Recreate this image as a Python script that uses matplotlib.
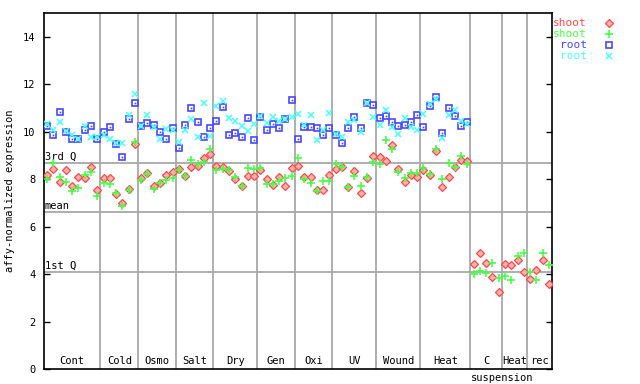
import matplotlib
matplotlib.use('Agg')
import matplotlib.pyplot as plt
import numpy as np

# sample groups along the x axis
groups = ['Cont', 'Cold', 'Osmo', 'Salt', 'Dry', 'Gen', 'Oxi', 'UV', 'Wound',
          'Heat', 'C', 'Heat', 'rec']
group_sizes = [9, 6, 6, 6, 7, 6, 6, 7, 7, 8, 5, 4, 4]

# reference lines
ref_names = ['3rd Q', 'mean', '1st Q']
ref_values = [8.69, 6.62, 4.09]

# shoot replicate 1 (red) and 2 (green)
shoot_red = [8.19, 8.41, 7.87, 8.37, 7.70, 8.08, 8.04, 8.50, 7.54,
             8.04, 8.04, 7.37, 7.01, 7.58, 9.48,
             8.04, 8.25, 7.70, 7.83, 8.17, 8.30,
             8.42, 8.13, 8.50, 8.55, 8.88, 9.05,
             8.55, 8.50, 8.33, 8.00, 7.70, 8.13, 8.13,
             8.38, 8.00, 7.74, 8.08, 7.70, 8.46,
             8.55, 8.08, 8.08, 7.54, 7.54, 8.17,
             8.42, 8.50, 7.66, 8.33, 7.41, 8.04, 8.97,
             8.93, 8.75, 9.43, 8.42, 7.87, 8.17, 8.08,
             8.38, 8.17, 9.18, 7.66, 8.08, 8.50, 8.80, 8.75,
             4.42, 4.89, 4.46, 3.87, 3.23,
             4.42, 4.37, 4.58, 4.08,
             3.78, 4.16, 4.58, 3.57]
shoot_green = [8.00, 8.68, 8.08, 7.87, 7.49, 7.62, 8.17, 8.30, 7.28,
               7.83, 7.79, 7.43, 6.85, 7.56, 9.56,
               7.96, 8.21, 7.58, 7.83, 7.96, 8.04,
               8.38, 8.13, 8.80, 8.65, 8.72, 9.27,
               8.38, 8.42, 8.40, 8.08, 7.70, 8.46, 8.42,
               8.46, 7.79, 7.79, 7.91, 8.04, 8.13,
               8.88, 8.00, 7.83, 7.49, 7.91, 7.91,
               8.63, 8.50, 7.66, 8.13, 7.70, 8.08, 8.72,
               8.63, 9.64, 9.27, 8.30, 8.04, 8.25, 8.25,
               8.46, 8.21, 9.27, 8.00, 8.68, 8.50, 8.97, 8.63,
               3.99, 4.12, 4.03, 4.46, 3.82,
               3.91, 3.74, 4.75, 4.89,
               4.08, 3.74, 4.89, 4.37]

# root replicate 1 (blue) and 2 (cyan) - no suspension samples
root_blue = [10.22, 9.85, 10.83, 9.98, 9.69, 9.71, 10.07, 10.24, 9.69,
             9.98, 10.19, 9.48, 8.93, 10.53, 11.20,
             10.24, 10.36, 10.28, 9.98, 9.69, 10.15,
             9.31, 10.28, 11.00, 10.40, 9.77, 10.15,
             10.44, 11.04, 9.86, 9.94, 9.77, 10.57, 9.64,
             10.63, 10.07, 10.32, 10.15, 10.53, 11.33,
             9.69, 10.20, 10.19, 10.15, 9.85, 10.15,
             9.85, 9.52, 10.15, 10.61, 10.15, 11.20, 11.12,
             10.57, 10.65, 10.40, 10.24, 10.28, 10.40, 10.70,
             10.19, 11.08, 11.46, 9.94, 11.00, 10.65, 10.24, 10.40]
root_cyan = [10.34, 10.07, 10.40, 10.02, 9.85, 9.71, 10.22, 9.77, 9.77,
             9.85, 9.71, 9.53, 9.53, 10.72, 11.58,
             10.24, 10.70, 10.19, 9.69, 10.11, 10.07,
             9.58, 10.05, 10.53, 9.77, 11.20, 9.81,
             11.08, 11.29, 10.57, 10.44, 10.24, 10.02, 10.32,
             10.65, 10.36, 10.61, 10.44, 10.53, 10.61,
             10.74, 10.28, 10.70, 9.64, 10.07, 10.78,
             9.90, 9.77, 10.40, 10.48, 9.98, 11.20, 10.61,
             10.28, 10.90, 10.19, 9.90, 10.57, 10.19, 10.07,
             10.74, 11.16, 11.37, 9.73, 10.70, 10.90, 10.44, 10.32]

legend_labels = ['shoot', 'shoot', 'root', 'root']
red, green, blue, cyan = '#ff4848', '#48ff48', '#4848ff', '#48ffff'
font = 'DejaVu Sans Mono'

fig = plt.figure(figsize=(6.4, 3.84), dpi=100)
ax = fig.add_axes([44 / 640, 15 / 384, 508 / 640, 356 / 384])

n = sum(group_sizes)
x_all = np.arange(n) + 0.5
x_root = np.arange(len(root_blue)) + 0.5

edges = np.cumsum([0] + group_sizes)
for e in edges[1:-1]:
    ax.axvline(e, color='#a8a8a8', lw=1.3, zorder=1)
for name, v in zip(ref_names, ref_values):
    ax.axhline(v, color='#a8a8a8', lw=1.3, zorder=1)
    ax.text(0.15, v + 0.05, name, ha='left', va='bottom', fontsize=7.5,
            family=font, color='black')

ax.plot(x_root, root_blue, ls='none', marker='s', ms=4.6, mfc='none',
        mec=blue, mew=1.2, zorder=3)
ax.plot(x_root, root_blue, ls='none', marker='s', ms=1.2, mfc=blue,
        mec=blue, mew=0, zorder=3)
ax.plot(x_root, root_cyan, ls='none', marker='x', ms=4.6, mec=cyan, mew=1.1,
        zorder=3)
ax.plot(x_all, shoot_red, ls='none', marker='D', ms=4, mfc='#ffb0b0',
        mec=red, mew=0.9, zorder=3)
ax.plot(x_all, shoot_green, ls='none', marker='+', ms=5.5, mec=green,
        mew=1.2, zorder=3)

for i, g in enumerate(groups):
    ax.text((edges[i] + edges[i + 1]) / 2, 0.12, g, ha='center', va='bottom',
            fontsize=7.5, family=font)
ax.text(edges[11], -0.36, 'suspension', ha='center', va='center',
        fontsize=7.5, family=font, clip_on=False)

ax.set_xlim(0, n)
ax.set_ylim(0, 15)
ax.set_xticks([])
ax.set_yticks(range(0, 15, 2))
ax.tick_params(axis='y', direction='in', length=4, width=1, labelsize=7.5,
               right=True, pad=6)
for lab in ax.get_yticklabels():
    lab.set_family(font)
for s in ax.spines.values():
    s.set_linewidth(1.2)
fig.text(10 / 640, 1 - 191 / 384, 'affy-normalized expression', rotation=90,
         ha='center', va='center', fontsize=7.5, family=font)

# legend outside on the right
leg_colors = [red, green, blue, cyan]
leg_y = [23, 34, 45, 56]
for lab, c, yy in zip(legend_labels, leg_colors, leg_y):
    fig.text(587 / 640, 1 - yy / 384, lab, ha='right', va='center',
             fontsize=8, family=font, color=c)
fig.lines.append(plt.Line2D([609 / 640], [1 - 23 / 384], marker='D', ms=4,
                            mfc='#ffb0b0', mec=red, mew=0.9, ls='none',
                            transform=fig.transFigure))
fig.lines.append(plt.Line2D([609 / 640], [1 - 34 / 384], marker='+', ms=5.5,
                            mec=green, mew=1.2, ls='none',
                            transform=fig.transFigure))
fig.lines.append(plt.Line2D([609 / 640], [1 - 45 / 384], marker='s', ms=4.2,
                            mfc='none', mec=blue, mew=1.2, ls='none',
                            transform=fig.transFigure))
fig.lines.append(plt.Line2D([609 / 640], [1 - 56 / 384], marker='x', ms=4.6,
                            mec=cyan, mew=1.1, ls='none',
                            transform=fig.transFigure))

fig.savefig('out.png', dpi=100)
